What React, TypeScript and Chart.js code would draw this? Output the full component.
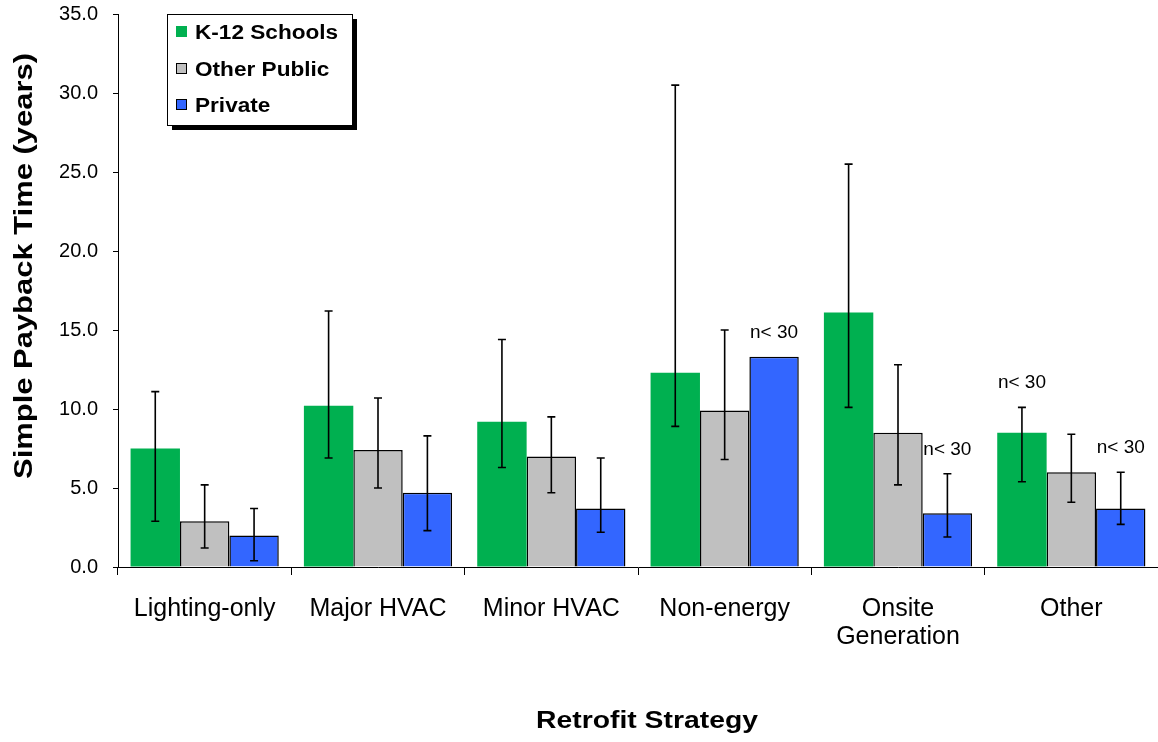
import React, { useEffect, useRef } from "react";
import { Chart, registerables } from "chart.js";

Chart.register(...registerables);

const categories: (string | string[])[] = [
  "Lighting-only",
  "Major HVAC",
  "Minor HVAC",
  "Non-energy",
  ["Onsite", "Generation"],
  "Other",
];
const seriesNames = ["K-12 Schools", "Other Public", "Private"];

const k12Values = [7.5, 10.2, 9.2, 12.3, 16.1, 8.5];
const k12Low = [2.9, 6.9, 6.3, 8.9, 10.1, 5.4];
const k12High = [11.1, 16.2, 14.4, 30.5, 25.5, 10.1];

const otherValues = [2.9, 7.4, 7.0, 9.9, 8.5, 6.0];
const otherLow = [1.2, 5.0, 4.7, 6.8, 5.2, 4.1];
const otherHigh = [5.2, 10.7, 9.5, 15.0, 12.8, 8.4];

const privateValues = [2.0, 4.7, 3.7, 13.3, 3.4, 3.7];
const privateLow: (number | null)[] = [0.4, 2.3, 2.2, null, 1.9, 2.7];
const privateHigh: (number | null)[] = [3.7, 8.3, 6.9, null, 5.9, 6.0];

const k12Small = [false, false, false, false, false, true];
const otherSmall = [false, false, false, false, false, false];
const privateSmall = [false, false, false, true, true, true];

const yTicks = [0, 5, 10, 15, 20, 25, 30, 35];
const yTitle = "Simple Payback Time (years)";
const xTitle = "Retrofit Strategy";
const smallLabel = "n< 30";

const colors = ["#00B050", "#C0C0C0", "#3366FF"];
const FONT = "'Liberation Sans', Arial, sans-serif";

const lows = [k12Low, otherLow, privateLow];
const highs = [k12High, otherHigh, privateHigh];
const smalls = [k12Small, otherSmall, privateSmall];

const overlayPlugin = {
  id: "overlay",
  afterDatasetsDraw(chart: any) {
    const ctx = chart.ctx;
    const y = chart.scales.y;
    ctx.save();
    ctx.strokeStyle = "#000";
    ctx.lineWidth = 1.6;
    for (let d = 0; d < 3; d++) {
      const meta = chart.getDatasetMeta(d);
      meta.data.forEach((bar: any, i: number) => {
        const lo = lows[d][i];
        const hi = highs[d][i];
        if (lo == null || hi == null) return;
        const x = bar.x;
        const yl = y.getPixelForValue(lo);
        const yh = y.getPixelForValue(hi);
        ctx.beginPath();
        ctx.moveTo(x, yl);
        ctx.lineTo(x, yh);
        ctx.moveTo(x - 4, yl);
        ctx.lineTo(x + 4, yl);
        ctx.moveTo(x - 4, yh);
        ctx.lineTo(x + 4, yh);
        ctx.stroke();
      });
    }
    ctx.fillStyle = "#000";
    ctx.font = `19px ${FONT}`;
    ctx.textAlign = "center";
    ctx.textBaseline = "alphabetic";
    for (let d = 0; d < 3; d++) {
      const meta = chart.getDatasetMeta(d);
      meta.data.forEach((bar: any, i: number) => {
        if (!smalls[d][i]) return;
        const hi = highs[d][i];
        let top = bar.y;
        if (hi != null) top = Math.min(top, y.getPixelForValue(hi));
        ctx.fillText(smallLabel, bar.x, top - 19);
      });
    }
    ctx.restore();
  },
  afterDraw(chart: any) {
    const ctx = chart.ctx;
    const area = chart.chartArea;
    ctx.save();
    const bx = area.left + 49;
    const by = area.top;
    const bw = 185;
    const bh = 111;
    ctx.fillStyle = "#000";
    ctx.fillRect(bx + 5, by + 5, bw, bh);
    ctx.fillStyle = "#fff";
    ctx.fillRect(bx, by, bw, bh);
    ctx.strokeStyle = "#000";
    ctx.lineWidth = 1;
    ctx.strokeRect(bx + 0.5, by + 0.5, bw, bh);
    const rowY = [by + 12, by + 49, by + 85];
    seriesNames.forEach((name, i) => {
      ctx.fillStyle = colors[i];
      ctx.fillRect(bx + 9, rowY[i], 11, 11);
      if (i > 0) {
        ctx.strokeStyle = "#000";
        ctx.lineWidth = 1;
        ctx.strokeRect(bx + 9.5, rowY[i] + 0.5, 10, 10);
      }
      ctx.save();
      ctx.fillStyle = "#000";
      ctx.font = `bold 20px ${FONT}`;
      ctx.textAlign = "left";
      ctx.textBaseline = "alphabetic";
      ctx.translate(bx + 28, rowY[i] + 13);
      ctx.scale(1.13, 1);
      ctx.fillText(name, 0, 0);
      ctx.restore();
    });
    ctx.save();
    ctx.fillStyle = "#000";
    ctx.font = `bold 26px ${FONT}`;
    ctx.textAlign = "center";
    ctx.textBaseline = "alphabetic";
    ctx.translate(32, 266);
    ctx.rotate(-Math.PI / 2);
    ctx.scale(1.19, 1);
    ctx.fillText(yTitle, 0, 0);
    ctx.restore();
    ctx.save();
    ctx.fillStyle = "#000";
    ctx.font = `bold 24px ${FONT}`;
    ctx.textAlign = "center";
    ctx.textBaseline = "alphabetic";
    ctx.translate(647, 728);
    ctx.scale(1.18, 1);
    ctx.fillText(xTitle, 0, 0);
    ctx.restore();
    ctx.restore();
  },
};

const whiteBg = {
  id: "whiteBg",
  beforeDraw(chart: any) {
    const ctx = chart.ctx;
    ctx.save();
    ctx.fillStyle = "#fff";
    ctx.fillRect(0, 0, chart.width, chart.height);
    ctx.restore();
  },
};

export default function App() {
  const ref = useRef<HTMLCanvasElement | null>(null);
  useEffect(() => {
    if (!ref.current) return;
    const chart = new Chart(ref.current, {
      type: "bar",
      data: {
        labels: categories as any,
        datasets: [
          {
            label: seriesNames[0],
            data: k12Values,
            backgroundColor: colors[0],
            borderWidth: 0,
          },
          {
            label: seriesNames[1],
            data: otherValues,
            backgroundColor: colors[1],
            borderColor: "#000",
            borderWidth: 1.5,
          },
          {
            label: seriesNames[2],
            data: privateValues,
            backgroundColor: colors[2],
            borderColor: "#000",
            borderWidth: 1.5,
          },
        ],
      },
      options: {
        animation: false,
        responsive: true,
        maintainAspectRatio: false,
        devicePixelRatio: 1,
        layout: { padding: { top: 14, right: 0, left: 0, bottom: 0 } },
        datasets: {
          bar: { categoryPercentage: 0.855, barPercentage: 1.0 },
        },
        plugins: {
          legend: { display: false },
          tooltip: { enabled: false },
        },
        scales: {
          x: {
            grid: {
              display: true,
              drawOnChartArea: false,
              drawTicks: true,
              tickLength: 8,
              color: "#000",
              offset: true,
            },
            border: { display: true, color: "#000", width: 1 },
            ticks: {
              color: "#000",
              font: { family: FONT, size: 25, lineHeight: 1.13 },
              padding: 20,
              maxRotation: 0,
              autoSkip: false,
            },
            afterFit(scale: any) {
              scale.height = 175;
              scale.paddingLeft = 0;
              scale.paddingRight = 0;
            },
          },
          y: {
            min: 0,
            max: 35,
            afterBuildTicks(scale: any) {
              scale.ticks = yTicks.map((v) => ({ value: v }));
            },
            grid: {
              display: true,
              drawOnChartArea: false,
              drawTicks: true,
              tickLength: 5,
              color: "#000",
            },
            border: { display: true, color: "#000", width: 1 },
            ticks: {
              color: "#000",
              font: { family: FONT, size: 20 },
              padding: 15,
              callback: (v: any) => Number(v).toFixed(1),
            },
            afterFit(scale: any) {
              scale.width = 118;
              scale.paddingTop = 0;
              scale.paddingBottom = 0;
            },
          },
        },
      },
      plugins: [whiteBg, overlayPlugin],
    });
    return () => chart.destroy();
  }, []);
  return (
    <div style={{ position: "fixed", left: 0, top: 0, width: 1158, height: 742, background: "#fff" }}>
      <canvas ref={ref} />
    </div>
  );
}
